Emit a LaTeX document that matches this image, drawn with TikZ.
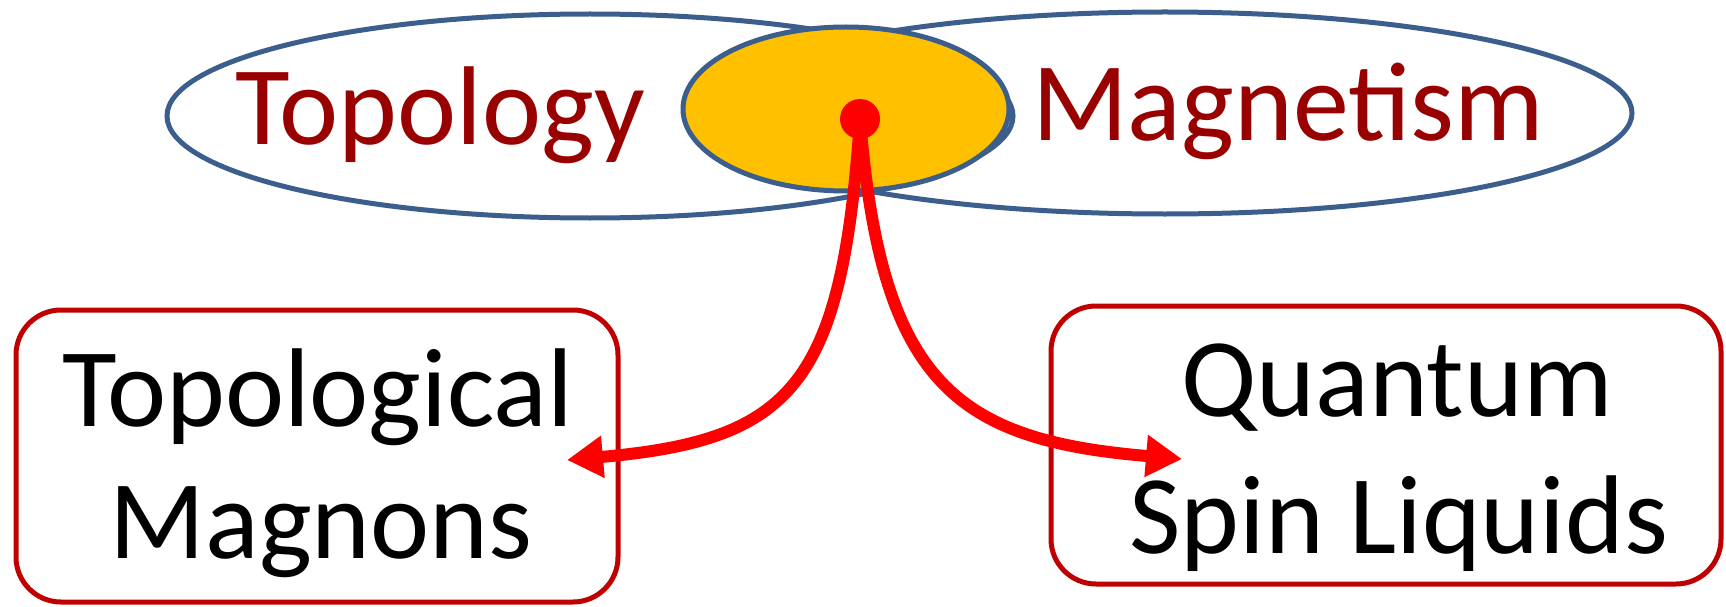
\documentclass[tikz,border=0pt]{standalone}
\usepackage{fontspec}
\setmainfont{Carlito}
\usetikzlibrary{shapes.geometric,arrows.meta}
\definecolor{ellblue}{RGB}{59,94,140}
\definecolor{darkred}{RGB}{153,0,0}
\definecolor{boxred}{RGB}{192,0,0}
\definecolor{gold}{RGB}{255,192,0}
\tikzset{
  ell/.style={ellipse, draw=ellblue, line width=5pt, inner sep=0pt},
  rbox/.style={draw=boxred, line width=5pt, rounded corners=45pt, inner sep=0pt},
  bigtxt/.style={font=\fontsize{112}{134}\selectfont, anchor=base, inner sep=0pt},
  arr/.style={draw=red, line width=12pt, -{Triangle[length=36pt,width=40pt]}},
}
\begin{document}
\begin{tikzpicture}[x=1pt,y=-1pt]
\useasboundingbox[fill=white] (0,0) rectangle (1726,607);
% ellipses
\node[ell, minimum width=846pt, minimum height=204pt] (topo) at (590,116) {};
\node[ell, minimum width=934pt, minimum height=202pt] (magn) at (1165,113) {};
\node[ell, fill=gold, minimum width=326pt, minimum height=164pt] (inter) at (846,109) {};
% labels in ellipses
\node[bigtxt, text=darkred] (ltopo) at (440,144) {Topology};
\node[bigtxt, text=darkred] (lmagn) at (1288,141) {Magnetism};
% boxes
\node[rbox, minimum width=602pt, minimum height=292pt] (boxL) at (317,456) {};
\node[rbox, minimum width=670pt, minimum height=278pt] (boxR) at (1386,445) {};
\node[bigtxt] (l1) at (318,426) {Topological};
\node[bigtxt] (l2) at (321,558) {Magnons};
\node[bigtxt] (r1) at (1397,416) {Quantum};
\node[bigtxt] (r2) at (1399,553) {Spin Liquids};
% arrows
\node[circle, fill=red, minimum size=40pt, inner sep=0pt] (dot) at (860,119) {};
\coordinate (tipL) at (567,460);
\coordinate (tipR) at (1182,459);
\draw[arr] (dot.center) .. controls (842,385) and (793,440) .. (tipL);
\draw[arr] (dot.center) .. controls (881,385) and (958,440) .. (tipR);
\end{tikzpicture}
\end{document}
